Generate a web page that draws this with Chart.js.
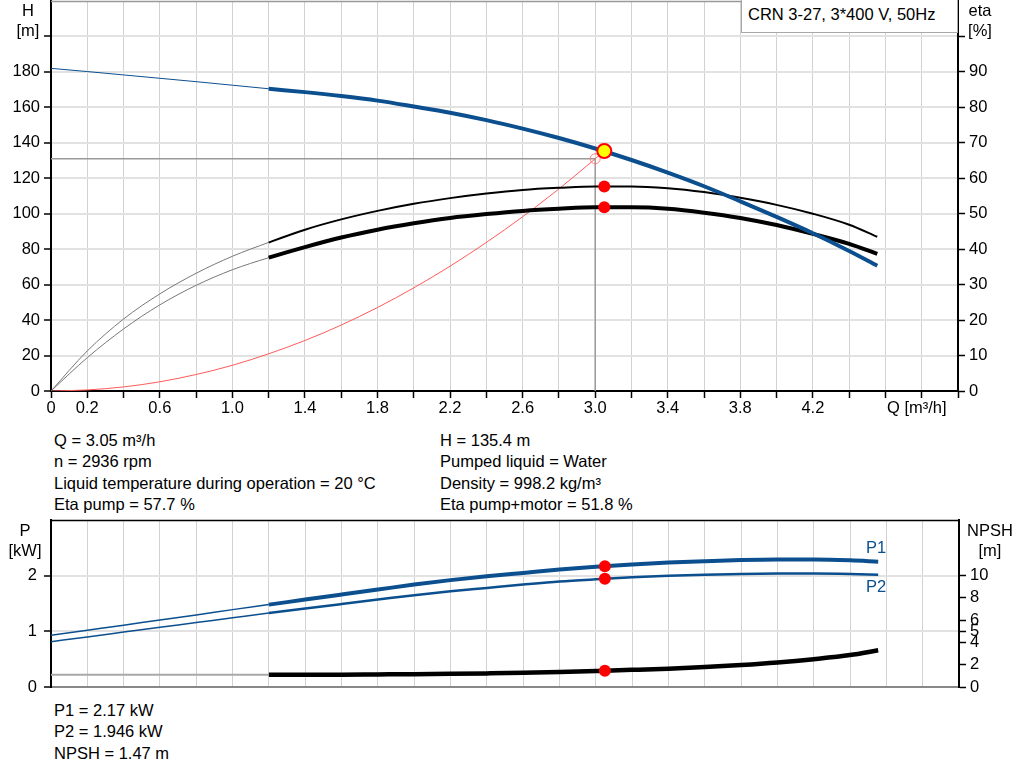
<!DOCTYPE html>
<html>
<head>
<meta charset="utf-8">
<script src="https://cdn.jsdelivr.net/npm/chart.js@4.4.0/dist/chart.umd.min.js"></script>
<style>
  html, body { margin: 0; padding: 0; background: #fff; }
  body { width: 1024px; height: 781px; position: relative; overflow: hidden;
         font-family: "Liberation Sans", Arial, sans-serif; font-size: 16.5px; color: #000; }
  .abs { position: absolute; white-space: nowrap; }
  #topWrap { position: absolute; left: 0; top: 0; width: 1024px; height: 430px; }
  #botWrap { position: absolute; left: 0; top: 515px; width: 1024px; height: 180px; }
  .unit { text-align: center; line-height: 20px; width: 60px; }
  .info { line-height: 21.3px; }
  .legend { left: 741px; top: 0; width: 217px; height: 33px; border: 1px solid #a8a8a8; border-top: none;
            background: #fff; line-height: 28px; padding-left: 6px; box-sizing: border-box; }
  .blue { color: #0b4f8f; }
</style>
</head>
<body>
<div id="topWrap"><canvas id="topChart" width="1024" height="430"></canvas></div>
<div id="botWrap"><canvas id="botChart" width="1024" height="180"></canvas></div>

<div class="abs unit" style="left:-2px; top:0;">H<br>[m]</div>
<div class="abs unit" style="left:950px; top:0;">eta<br>[%]</div>
<div class="abs legend">CRN 3-27, 3*400 V, 50Hz</div>
<div class="abs" style="left:887px; top:397px; line-height:20px;">Q [m³/h]</div>

<div class="abs info" style="left:54px; top:430px;">Q = 3.05 m³/h<br>n = 2936 rpm<br>Liquid temperature during operation = 20 °C<br>Eta pump = 57.7 %</div>
<div class="abs info" style="left:440px; top:430px;">H = 135.4 m<br>Pumped liquid = Water<br>Density = 998.2 kg/m³<br>Eta pump+motor = 51.8 %</div>

<div class="abs unit" style="left:-5px; top:520px;">P<br>[kW]</div>
<div class="abs unit" style="left:960px; top:520px;">NPSH<br>[m]</div>
<div class="abs blue" style="left:866px; top:537px; line-height:20px;">P1</div>
<div class="abs blue" style="left:866px; top:576px; line-height:20px;">P2</div>

<div class="abs info" style="left:54px; top:700px;">P1 = 2.17 kW<br>P2 = 1.946 kW<br>NPSH = 1.47 m</div>

<script>
// Pump curve data
const flowQ = [0, 0.2, 0.4, 0.6, 0.8, 1.0, 1.2, 1.4, 1.6, 1.8, 2.0, 2.2, 2.4, 2.6, 2.8, 3.0, 3.2, 3.4, 3.6, 3.8, 4.0, 4.2, 4.4, 4.555];
const headH = [182, 180.2, 178.3, 176.4, 174.5, 172.5, 170.5, 168.6, 166.4, 163.8, 160.5, 157, 152.8, 148, 142.7, 136.8, 130.3, 123.2, 115.5, 107, 98.2, 89, 79, 70.7];
const etaPump = [0, 11.3, 20.3, 27.4, 33.2, 38, 41.9, 45.5, 48.4, 50.8, 52.8, 54.4, 55.7, 56.7, 57.3, 57.7, 57.7, 57.2, 56.1, 54.5, 52.5, 50, 46.9, 43.5];
const etaTotal = [0, 9.4, 17.5, 24.3, 29.8, 34.2, 37.6, 40.6, 43.3, 45.5, 47.3, 48.8, 49.9, 50.8, 51.4, 51.8, 51.8, 51.4, 50.3, 48.8, 46.8, 44.3, 41.5, 38.7];
const powerP1 = [0.93, 1.02, 1.11, 1.205, 1.295, 1.39, 1.48, 1.57, 1.66, 1.75, 1.84, 1.92, 1.99, 2.05, 2.11, 2.16, 2.2, 2.235, 2.26, 2.28, 2.29, 2.29, 2.275, 2.25];
const powerP2 = [0.815, 0.9, 0.986, 1.072, 1.158, 1.244, 1.33, 1.41, 1.49, 1.57, 1.65, 1.72, 1.78, 1.84, 1.895, 1.935, 1.97, 1.997, 2.017, 2.03, 2.037, 2.038, 2.03, 2.015];
const npshValues = [1.1, 1.1, 1.1, 1.1, 1.1, 1.1, 1.1, 1.1, 1.11, 1.13, 1.15, 1.18, 1.22, 1.27, 1.345, 1.44, 1.54, 1.65, 1.79, 1.97, 2.2, 2.5, 2.87, 3.3];

// System curve
const systemQ = [0, 0.2, 0.4, 0.6, 0.8, 1.0, 1.2, 1.4, 1.6, 1.8, 2.0, 2.2, 2.4, 2.6, 2.8, 3.0, 3.05];
const systemH = [0, 0.6, 2.3, 5.2, 9.3, 14.5, 21, 28.5, 37.2, 47.1, 58.2, 70.4, 83.8, 98.3, 114, 131, 135.4];

// Duty point
const dutyQ = 3.05;
const dutyH = 135.4;
const dutyEtaPump = 57.7;
const dutyEtaTotal = 51.8;
const dutyP1 = 2.17;
const dutyP2 = 1.946;
const dutyNpsh = 1.47;
const projQ = 3.0;
const projH = 131;
const solidFromQ = 1.2;

// Ticks
const qTickLabels = [0, 0.2, 0.6, 1.0, 1.4, 1.8, 2.2, 2.6, 3.0, 3.4, 3.8, 4.2];
const pTicks = [0, 1, 2];
const npshTicks = [0, 2, 4, 5, 6, 8, 10];

const blue = '#0b4f8f';
const tickFont = { family: '"Liberation Sans", Arial, sans-serif', size: 16.5 };

function toPoints(xs, ys) {
    return xs.map((x, i) => ({ x: x, y: ys[i] }));
}

// thin before the allowed operating range, thick inside it
function split(thin, thick) {
    return ctx => (ctx.p0.parsed.x < solidFromQ - 1e-6 ? thin : thick);
}

function fixWidth(w) {
    return s => { s.width = w; s.paddingTop = 0; s.paddingBottom = 0; };
}

function fixHeight(h) {
    return s => { s.height = h; s.paddingLeft = 0; s.paddingRight = 0; };
}

const framePlugin = {
    id: 'frame',
    afterDraw(chart, args, opts) {
        const a = chart.chartArea;
        const c = chart.ctx;
        c.save();
        c.strokeStyle = opts.topColor || '#000';
        c.lineWidth = 1.5;
        c.beginPath();
        c.moveTo(a.left, a.top + 0.5);
        c.lineTo(a.right, a.top + 0.5);
        c.stroke();
        c.restore();
    }
};

const lineBase = {
    pointRadius: 0,
    cubicInterpolationMode: 'monotone',
    fill: false
};

new Chart(document.getElementById('topChart'), {
    type: 'line',
    plugins: [framePlugin],
    data: {
        datasets: [
            {
                data: [{ x: dutyQ, y: dutyH }], yAxisID: 'yH', showLine: false,
                pointRadius: 7, pointBackgroundColor: '#ffff00', pointBorderColor: '#ff0000', pointBorderWidth: 2
            },
            {
                data: [{ x: dutyQ, y: dutyEtaPump }, { x: dutyQ, y: dutyEtaTotal }], yAxisID: 'yEta', showLine: false,
                pointRadius: 6, pointBackgroundColor: '#ff0000', pointBorderWidth: 0
            },
            Object.assign({}, lineBase, {
                data: toPoints(flowQ, headH), yAxisID: 'yH', borderColor: blue, borderWidth: 4,
                segment: { borderWidth: split(1, 4) }
            }),
            Object.assign({}, lineBase, {
                data: toPoints(flowQ, etaPump), yAxisID: 'yEta', borderColor: '#000', borderWidth: 2,
                segment: { borderWidth: split(1, 2), borderColor: split('#777', '#000') }
            }),
            Object.assign({}, lineBase, {
                data: toPoints(flowQ, etaTotal), yAxisID: 'yEta', borderColor: '#000', borderWidth: 4,
                segment: { borderWidth: split(1, 4), borderColor: split('#777', '#000') }
            }),
            Object.assign({}, lineBase, {
                data: toPoints(systemQ, systemH), yAxisID: 'yH', borderColor: '#ff5a5a', borderWidth: 1
            }),
            {
                data: [{ x: projQ, y: projH }], yAxisID: 'yH', showLine: false,
                pointRadius: 5, pointBackgroundColor: 'rgba(0,0,0,0)', pointBorderColor: '#ff8080', pointBorderWidth: 1
            },
            {
                data: [{ x: 0, y: projH }, { x: projQ, y: projH }, { x: projQ, y: 0 }], yAxisID: 'yH',
                borderColor: '#9a9a9a', borderWidth: 1.5, pointRadius: 0, tension: 0
            }
        ]
    },
    options: {
        responsive: false,
        animation: false,
        layout: { autoPadding: false, padding: { top: 1, left: 0, right: 0, bottom: 0 } },
        plugins: { legend: { display: false }, tooltip: { enabled: false }, frame: { topColor: '#999' } },
        scales: {
            x: {
                type: 'linear', min: 0, max: 5,
                ticks: {
                    stepSize: 0.2, autoSkip: false, maxRotation: 0, color: '#000', font: tickFont, padding: 1,
                    callback: v => qTickLabels.some(t => Math.abs(t - v) < 1e-6) ? (v === 0 ? '0' : v.toFixed(1)) : ''
                },
                grid: { color: '#d2d2d2', lineWidth: 1, tickColor: '#000', tickLength: 7, tickWidth: 1.5 },
                border: { color: '#000', width: 2 },
                afterFit: fixHeight(39)
            },
            yH: {
                type: 'linear', position: 'left', min: 0, max: 220,
                ticks: { stepSize: 20, color: '#000', font: tickFont, padding: 4, callback: v => (v <= 180 ? v : '') },
                afterBuildTicks: s => { s.ticks = s.ticks.filter(t => t.value <= 200); },
                grid: { color: '#e2e2e2', lineWidth: 2, tickColor: '#000', tickLength: 7, tickWidth: 1.5 },
                border: { color: '#000', width: 2 },
                afterFit: fixWidth(51)
            },
            yEta: {
                type: 'linear', position: 'right', min: 0, max: 110,
                ticks: { stepSize: 10, color: '#000', font: tickFont, padding: 4, callback: v => (v <= 90 ? v : '') },
                afterBuildTicks: s => { s.ticks = s.ticks.filter(t => t.value <= 100); },
                grid: { drawOnChartArea: false, tickColor: '#000', tickLength: 7, tickWidth: 1.5 },
                border: { color: '#000', width: 2 },
                afterFit: fixWidth(66)
            }
        }
    }
});

new Chart(document.getElementById('botChart'), {
    type: 'line',
    plugins: [framePlugin],
    data: {
        datasets: [
            {
                data: [{ x: dutyQ, y: dutyP1 }, { x: dutyQ, y: dutyP2 }], yAxisID: 'yP', showLine: false,
                pointRadius: 6, pointBackgroundColor: '#ff0000', pointBorderWidth: 0
            },
            {
                data: [{ x: dutyQ, y: dutyNpsh }], yAxisID: 'yN', showLine: false,
                pointRadius: 6, pointBackgroundColor: '#ff0000', pointBorderWidth: 0
            },
            Object.assign({}, lineBase, {
                data: toPoints(flowQ, powerP1), yAxisID: 'yP', borderColor: blue, borderWidth: 4,
                segment: { borderWidth: split(1.5, 4) }
            }),
            Object.assign({}, lineBase, {
                data: toPoints(flowQ, powerP2), yAxisID: 'yP', borderColor: blue, borderWidth: 2.5,
                segment: { borderWidth: split(1.5, 2.5) }
            }),
            Object.assign({}, lineBase, {
                data: toPoints(flowQ, npshValues), yAxisID: 'yN', borderColor: '#000', borderWidth: 4.5,
                segment: { borderWidth: split(2, 4.5), borderColor: split('#a8a8a8', '#000') }
            })
        ]
    },
    options: {
        responsive: false,
        animation: false,
        layout: { autoPadding: false, padding: { top: 5, left: 0, right: 0, bottom: 0 } },
        plugins: { legend: { display: false }, tooltip: { enabled: false }, frame: { topColor: '#000' } },
        scales: {
            x: {
                type: 'linear', min: 0, max: 5,
                ticks: { stepSize: 0.2, autoSkip: false, display: false },
                grid: { color: '#d2d2d2', lineWidth: 1, drawTicks: false },
                border: { color: '#888', width: 2 },
                afterFit: fixHeight(8)
            },
            yP: {
                type: 'linear', position: 'left', min: 0, max: 3,
                ticks: { color: '#000', font: tickFont, padding: 7 },
                afterBuildTicks: s => { s.ticks = pTicks.map(v => ({ value: v })); },
                grid: { color: '#e2e2e2', lineWidth: 2, tickColor: '#000', tickLength: 7, tickWidth: 1.5 },
                border: { color: '#000', width: 2 },
                afterFit: fixWidth(51)
            },
            yN: {
                type: 'linear', position: 'right', min: 0, max: 15,
                ticks: { color: '#000', font: tickFont, padding: 4 },
                afterBuildTicks: s => { s.ticks = npshTicks.map(v => ({ value: v })); },
                grid: { drawOnChartArea: false, tickColor: '#000', tickLength: 7, tickWidth: 1.5 },
                border: { color: '#000', width: 2 },
                afterFit: fixWidth(65)
            }
        }
    }
});
</script>
</body>
</html>
